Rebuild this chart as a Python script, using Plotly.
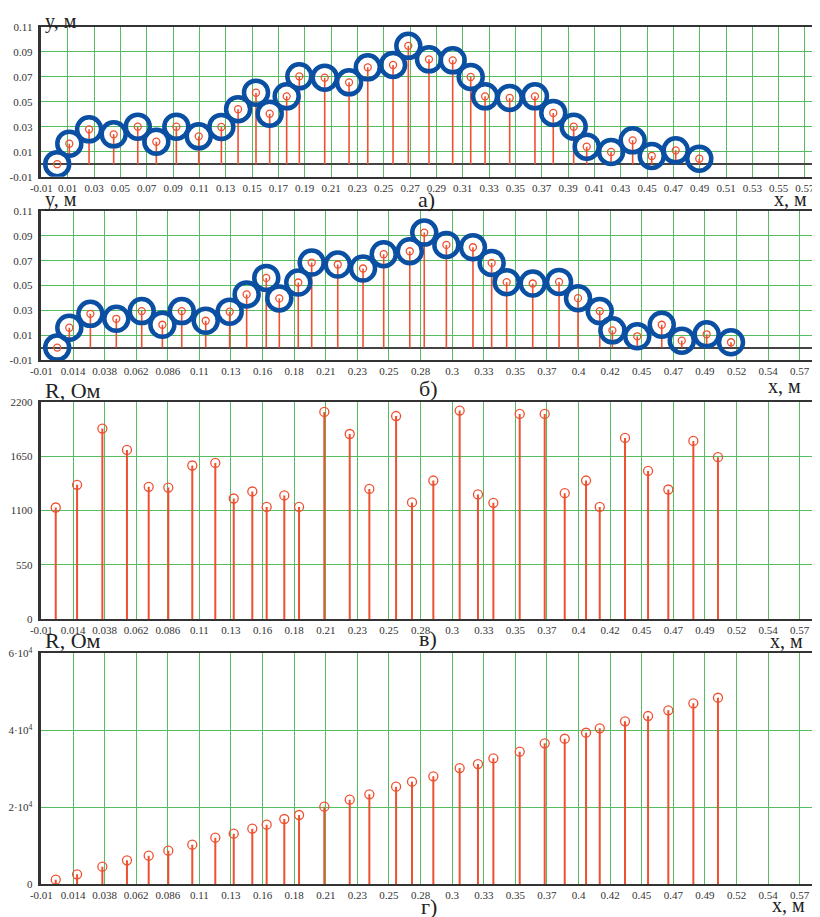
import plotly.graph_objects as go

# ---------------- data ----------------
# panel а) measured profile y(x)
x_a = [0.002, 0.0112, 0.0262, 0.0449, 0.0632, 0.0773, 0.0925, 0.1095, 0.1267, 0.1394,
       0.1530, 0.1634, 0.1763, 0.1859, 0.2052, 0.2237, 0.2379, 0.2571, 0.2687, 0.2844,
       0.3024, 0.3161, 0.3270, 0.3457, 0.3649, 0.3788, 0.3943, 0.4042, 0.4227, 0.4391,
       0.4536, 0.4718, 0.4897]
y_a = [0.0, 0.0164, 0.0279, 0.0239, 0.0300, 0.0180, 0.0300, 0.0223, 0.0298, 0.0440,
       0.0572, 0.0404, 0.0543, 0.0703, 0.0692, 0.0655, 0.0775, 0.0794, 0.0947, 0.0839,
       0.0831, 0.0698, 0.0543, 0.0530, 0.0543, 0.0410, 0.0300, 0.0140, 0.0098, 0.0191,
       0.0066, 0.0111, 0.0044]

# panel б) reconstructed profile y(x)
x_b = [0.002, 0.0112, 0.0272, 0.0469, 0.0662, 0.0819, 0.0966, 0.1148, 0.1330, 0.1459,
       0.1608, 0.1707, 0.1851, 0.1953, 0.2151, 0.2343, 0.2500, 0.2698, 0.2808, 0.2976,
       0.3178, 0.3320, 0.3434, 0.3632, 0.3832, 0.3976, 0.4141, 0.4237, 0.4426, 0.4612,
       0.4764, 0.4953, 0.5138]
y_b = [0.0, 0.0160, 0.0272, 0.0232, 0.0294, 0.0184, 0.0294, 0.0216, 0.0289, 0.0428,
       0.0561, 0.0396, 0.0524, 0.0685, 0.0669, 0.0637, 0.0752, 0.0776, 0.0926, 0.0827,
       0.0808, 0.0682, 0.0527, 0.0516, 0.0529, 0.0398, 0.0294, 0.0139, 0.0091, 0.0184,
       0.0056, 0.0107, 0.0043]

# panels в) and г) resistance R(x)
x_R = [0.0009, 0.0171, 0.0363, 0.0550, 0.0715, 0.0864, 0.1046, 0.1221, 0.1361, 0.1502,
       0.1611, 0.1745, 0.1857, 0.2049, 0.2242, 0.2391, 0.2594, 0.2715, 0.2877, 0.3077,
       0.3216, 0.3333, 0.3533, 0.3723, 0.3875, 0.4037, 0.4141, 0.4333, 0.4508, 0.4662,
       0.4852, 0.5039]
R_c = [1129, 1358, 1928, 1712, 1338, 1331, 1554, 1580, 1220, 1291,
       1135, 1251, 1135, 2096, 1873, 1317, 2055, 1180, 1402, 2110,
       1261, 1176, 2076, 2076, 1274, 1402, 1135, 1833, 1499, 1311,
       1803, 1638]
R_d = [1200, 2600, 4570, 6230, 7430, 8730, 10280, 12100, 13140, 14440,
       15480, 16960, 18000, 20150, 21970, 23370, 25350, 26650, 28050, 30200,
       31240, 32720, 34440, 36620, 37810, 39370, 40510, 42330, 43710, 45190,
       47010, 48460]

# tick values / labels
xt_a_vals = [-0.01 + 0.02 * k for k in range(30)]
xt_a_text = ["-0.01", "0.01", "0.03", "0.05", "0.07", "0.09", "0.11", "0.13", "0.15", "0.17",
             "0.19", "0.21", "0.23", "0.25", "0.27", "0.29", "0.31", "0.33", "0.35", "0.37",
             "0.39", "0.41", "0.43", "0.45", "0.47", "0.49", "0.51", "0.53", "0.55", "0.57"]
xt_b_vals = [-0.01 + 0.024 * k for k in range(25)]
xt_b_text = ["-0.01", "0.014", "0.038", "0.062", "0.086", "0.11", "0.13", "0.16", "0.18", "0.21",
             "0.23", "0.25", "0.28", "0.3", "0.33", "0.35", "0.37", "0.4", "0.42", "0.45",
             "0.47", "0.49", "0.52", "0.54", "0.57"]
yt_y_vals = [-0.01, 0.01, 0.03, 0.05, 0.07, 0.09, 0.11]
yt_y_text = ["-0.01", "0.01", "0.03", "0.05", "0.07", "0.09", "0.11"]
yt_c_vals = [0, 550, 1100, 1650, 2200]
yt_c_text = ["0", "550", "1100", "1650", "2200"]
yt_d_vals = [0, 20000, 40000, 60000]
yt_d_text = ["0", "2·10<sup>4</sup>", "4·10<sup>4</sup>", "6·10<sup>4</sup>"]

# ---------------- style ----------------
OFF = 8                      # page body margin of the generated html
W, H = 820 - OFF, 917 - OFF  # figure size so that page pixels match the target
RED = "#ef5030"
BLUE = "#0b4fa3"
GRID = "#55bd60"
AX = "#333333"
FONT = "Liberation Serif"


def px(p):
    return (p - OFF) / W


def py(p):
    return (H - (p - OFF)) / H


XR = [-0.01, 0.5814]
XDOM = [px(41.4), 1.0]
doms = [[py(176.7), py(26.7)], [py(360.0), py(211.0)],
        [py(619.0), py(401.7)], [py(884.3), py(653.3)]]

fig = go.Figure()


def stems(x, y, ax, msize, lw):
    fig.add_trace(go.Scatter(
        x=x, y=y, mode="markers", xaxis="x" + ax, yaxis="y" + ax,
        marker=dict(symbol="circle-open", size=msize, color=RED, line=dict(width=1.3, color=RED)),
        error_y=dict(type="data", symmetric=False, array=[0] * len(y), arrayminus=y,
                     color=RED, thickness=lw, width=0),
        showlegend=False, hoverinfo="x+y"))


def rings(x, y, ax):
    fig.add_trace(go.Scatter(
        x=x, y=y, mode="markers", xaxis="x" + ax, yaxis="y" + ax,
        marker=dict(symbol="circle-open", size=24, color=BLUE, line=dict(width=4.5, color=BLUE)),
        showlegend=False, hoverinfo="skip"))


stems(x_a, y_a, "", 7, 1.6)
rings(x_a, y_a, "")
stems(x_b, y_b, "2", 7, 1.6)
rings(x_b, y_b, "2")
stems(x_R, R_c, "3", 9, 2)
stems(x_R, R_d, "4", 9, 2)

tickfont = dict(family=FONT, size=11, color=AX)


def xaxis(i, vals, text):
    return dict(domain=XDOM, range=XR, anchor="y" + ("" if i == 1 else str(i)),
                tickmode="array", tickvals=vals, ticktext=text, tickfont=tickfont,
                showgrid=True, gridcolor=GRID, gridwidth=1.3, zeroline=False,
                showline=True, linecolor=AX, linewidth=1.5, mirror=True,
                ticks="", fixedrange=True, automargin=False, ticklabeloverflow="allow")


def yaxis(i, rng, vals, text, zero):
    return dict(domain=doms[i - 1], range=rng, anchor="x" + ("" if i == 1 else str(i)),
                tickmode="array", tickvals=vals, ticktext=text, tickfont=tickfont,
                showgrid=True, gridcolor=GRID, gridwidth=1.3,
                zeroline=zero, zerolinecolor="#444444", zerolinewidth=1.6,
                showline=True, linecolor=AX, linewidth=2.5, ticks="", ticklabelstandoff=4,
                fixedrange=True, automargin=False)


fig.update_layout(
    width=W, height=H, margin=dict(l=0, r=0, t=0, b=0, pad=0, autoexpand=False),
    paper_bgcolor="white", plot_bgcolor="white",
    xaxis=xaxis(1, xt_a_vals, xt_a_text),
    xaxis2=xaxis(2, xt_b_vals, xt_b_text),
    xaxis3=xaxis(3, xt_b_vals, xt_b_text),
    xaxis4=xaxis(4, xt_b_vals, xt_b_text),
    yaxis=yaxis(1, [-0.01, 0.11], yt_y_vals, yt_y_text, True),
    yaxis2=yaxis(2, [-0.01, 0.11], yt_y_vals, yt_y_text, True),
    yaxis3=yaxis(3, [0, 2200], yt_c_vals, yt_c_text, False),
    yaxis4=yaxis(4, [0, 60000], yt_d_vals, yt_d_text, False),
)

labels = [
    ("y, м", 43, 8, 20, "left", "top"),
    ("x, м", 790, 199, 20, "center", "middle"),
    ("а)", 426, 199, 22, "center", "middle"),
    ("y, м", 43, 199, 20, "left", "middle"),
    ("x, м", 784, 386, 20, "center", "middle"),
    ("б)", 428, 389, 22, "center", "middle"),
    ("R, Ом", 43, 390, 22, "left", "middle"),
    ("x, м", 786, 641, 20, "center", "middle"),
    ("в)", 428, 639, 22, "center", "middle"),
    ("R, Ом", 43, 640, 22, "left", "middle"),
    ("x, м", 788, 905, 20, "center", "middle"),
    ("г)", 429, 906, 22, "center", "middle"),
]
for txt, xp, ypx, sz, anc, vanc in labels:
    fig.add_annotation(text=txt, x=px(xp), y=py(ypx), xref="paper", yref="paper",
                       xanchor=anc, yanchor=vanc, showarrow=False,
                       font=dict(family=FONT, size=sz, color="#222222"))

fig.write_html("out.html")
